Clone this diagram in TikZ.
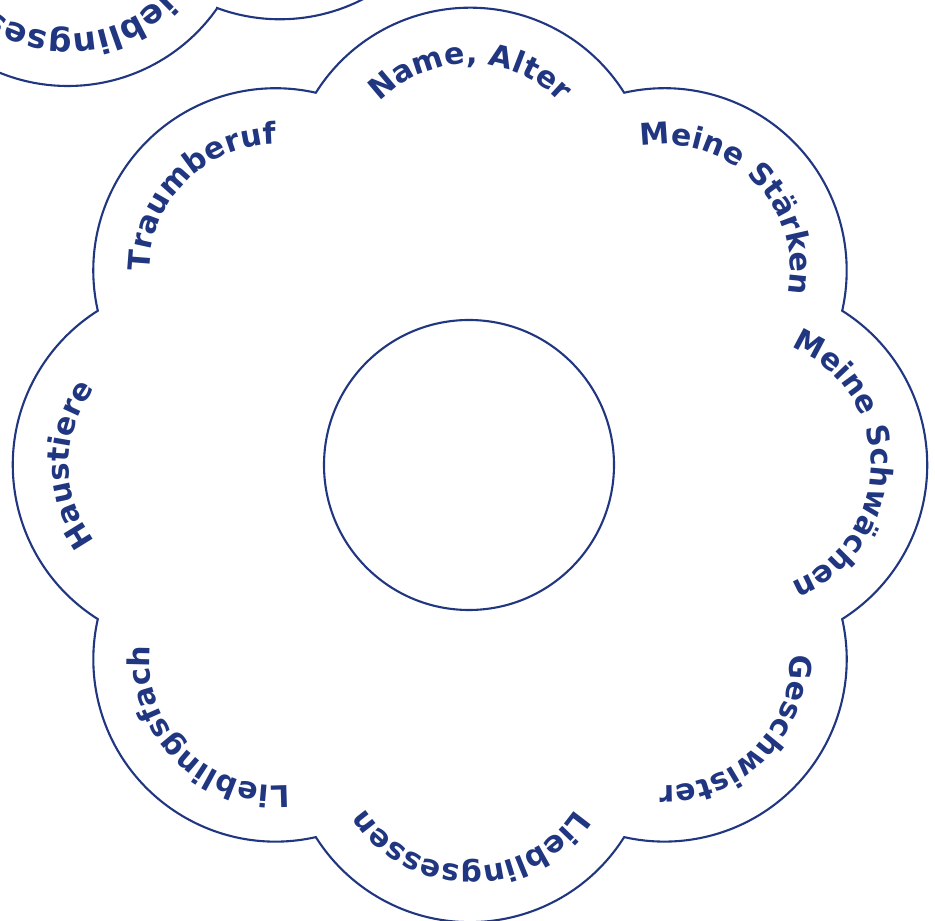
\documentclass[tikz,border=0pt]{standalone}
\usepackage{fontspec}
\usetikzlibrary{decorations.text,calc}
\newfontfamily\petalfont{DejaVu Sans}
\newcommand\pf{\petalfont\bfseries\fontsize{30}{30}\selectfont}
\newcommand\pfbig{\petalfont\bfseries\fontsize{33}{33}\selectfont}
\definecolor{flowerblue}{RGB}{32,54,128}
\tikzset{
  outline/.style={draw=flowerblue, line width=2.1pt, line join=miter},
  petaltext/.style={decorate, decoration={text along path, text={|\pf|#1}, text color=flowerblue, text align=center}},
  cornertext/.style={decorate, decoration={text along path, text={|\pfbig|#1}, text color=flowerblue, text align=center}}
}
\begin{document}
\begin{tikzpicture}[x=1pt,y=1pt]
\useasboundingbox (0,0) rectangle (935,921);
\clip (0,0) rectangle (935,921);
\fill[white] (0,0) rectangle (935,921);
\coordinate (C) at (470,456);
\coordinate (I) at (469,456);
% flower outline
\draw[outline] (C) ++(90:275pt) ++(147.75:182.3pt)
  \foreach \k in {0,...,7}{ arc[start angle={90-45*\k+57.75}, end angle={90-45*\k-57.75}, radius=182.3pt] } -- cycle;
% inner circle
\draw[outline] (I) circle[radius=145pt];
% petal texts
\path[petaltext={Name, Alter}] (C) ++(90:275pt) ++(170:126pt) arc[start angle=170, end angle=10, radius=126pt];
\path[petaltext={Meine Stärken}] (C) ++(45:275pt) ++(125:126pt) arc[start angle=125, end angle=-35, radius=126pt];
\path[petaltext={Meine Schwächen}] (C) ++(0:275pt) ++(80:126pt) arc[start angle=80, end angle=-80, radius=126pt];
\path[petaltext={Geschwister}] (C) ++(-45:275pt) ++(35:126pt) arc[start angle=35, end angle=-125, radius=126pt];
\path[petaltext={Lieblingsessen}] (C) ++(-90:275pt) ++(-10:126pt) arc[start angle=-10, end angle=-170, radius=126pt];
\path[petaltext={Lieblingsfach}] (C) ++(-135:275pt) ++(-55:126pt) arc[start angle=-55, end angle=-215, radius=126pt];
\path[petaltext={Haustiere}] (C) ++(180:275pt) ++(260:126pt) arc[start angle=260, end angle=100, radius=126pt];
\path[petaltext={Traumberuf}] (C) ++(135:275pt) ++(215:126pt) arc[start angle=215, end angle=55, radius=126pt];
% neighbouring flower in the top-left corner
\coordinate (Q) at (68,1017);
\coordinate (R) at (280,1083);
\draw[outline] (Q) ++(-175:182pt) arc[start angle=-175, end angle=-35, radius=182pt]
  -- ($(R)+(-110.3:181.3pt)$) arc[start angle=-110.3, end angle=-20, radius=181.3pt];
\path[cornertext={Lieblingsessen}] (Q) ++(-6:130pt) arc[start angle=-6, end angle=-182, radius=130pt];
\end{tikzpicture}
\end{document}
